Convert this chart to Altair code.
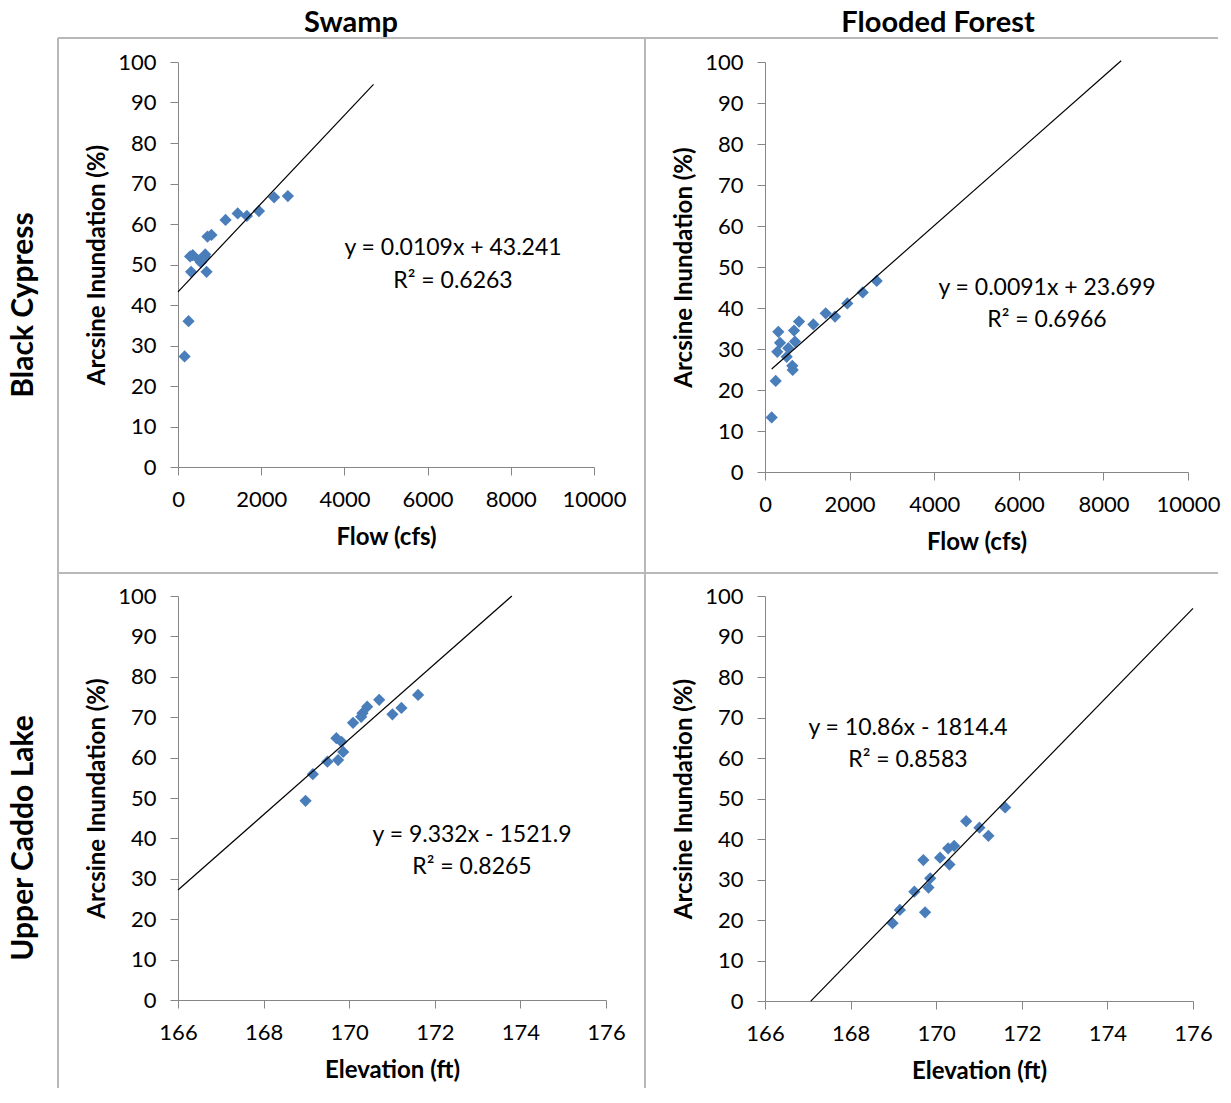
import altair as alt
import pandas as pd

# ---------------- data ----------------
flow_cfs = [158, 253, 291, 315, 355, 513, 551, 645, 655, 686, 709, 804, 1143, 1435, 1655, 1946, 2310, 2641]
swamp_black_cypress = [27.3, 36.0, 52.0, 48.2, 52.3, 51.1, 50.5, 51.9, 52.5, 48.2, 56.9, 57.3, 61.0, 62.6, 62.0, 63.2, 66.6, 66.9]
forest_black_cypress = [13.3, 22.2, 29.3, 34.2, 31.5, 28.1, 30.2, 25.9, 24.9, 34.5, 31.8, 36.7, 36.0, 38.7, 37.9, 41.1, 43.8, 46.6]

elevation_ft = [168.98, 169.15, 169.49, 169.70, 169.74, 169.82, 169.86, 170.09, 170.28, 170.31, 170.42, 170.70, 171.01, 171.22, 171.61]
swamp_upper_caddo = [49.3, 55.9, 59.0, 64.8, 59.4, 63.9, 61.4, 68.6, 70.1, 71.0, 72.6, 74.3, 70.7, 72.3, 75.5]
forest_upper_caddo = [19.2, 22.5, 27.0, 34.8, 21.9, 28.0, 30.3, 35.4, 37.7, 33.7, 38.3, 44.4, 42.8, 40.8, 47.8]

trend_slopes = [0.0109, 0.0091, 9.332, 10.86]
trend_intercepts = [43.241, 23.699, -1521.9, -1814.4]
trend_x_ranges = [[0, 4700], [158, 8420], [166, 173.8], [167.07, 176]]
trend_equations = ["y = 0.0109x + 43.241", "y = 0.0091x + 23.699", "y = 9.332x - 1521.9", "y = 10.86x - 1814.4"]
trend_r2 = ["R\u00b2 = 0.6263", "R\u00b2 = 0.6966", "R\u00b2 = 0.8265", "R\u00b2 = 0.8583"]

column_titles = ["Swamp", "Flooded Forest"]
row_titles = ["Black Cypress", "Upper Caddo Lake"]
x_titles = ["Flow (cfs)", "Flow (cfs)", "Elevation (ft)", "Elevation (ft)"]
y_title = "Arcsine Inundation (%)"
flow_ticks = [0, 2000, 4000, 6000, 8000, 10000]
elev_ticks = [166, 168, 170, 172, 174, 176]
y_ticks = list(range(0, 101, 10))

# ---------------- layout / style ----------------
FONT = "Lato"
BLUE = "#4A7EBB"
GRAY_BORDER = "#b8b8b8"
eq_pos = [(6611, 54.1, 45.9), (6667, 44.9, 37.1), (172.87, 40.8, 32.9), (169.34, 67.4, 59.5)]
sizes = [(416, 405), (423, 410), (428, 404), (428, 405)]
one = alt.Data(values=[{"k": 1}])


def panel(i, xs, ys, xdomain, xticks):
    w, h = sizes[i]
    xscale = alt.Scale(domain=xdomain, nice=False, zero=False)
    yscale = alt.Scale(domain=[0, 100], nice=False, zero=False)
    pts = pd.DataFrame({"x": xs, "y": ys})
    points = alt.Chart(pts).mark_point(
        shape="diamond", filled=True, size=150, color=BLUE, opacity=1
    ).encode(
        x=alt.X("x:Q", scale=xscale, axis=alt.Axis(title=x_titles[i], values=xticks, format="d")),
        y=alt.Y("y:Q", scale=yscale, axis=alt.Axis(title=y_title, values=y_ticks, format="d")),
    )
    tx = trend_x_ranges[i]
    line_df = pd.DataFrame({"x": tx, "y": [trend_slopes[i] * v + trend_intercepts[i] for v in tx]})
    line = alt.Chart(line_df).mark_line(color="black", strokeWidth=1.2).encode(
        x=alt.X("x:Q", scale=xscale, title=x_titles[i]),
        y=alt.Y("y:Q", scale=yscale, title=y_title),
    )
    ex, ey1, ey2 = eq_pos[i]
    eq_df = pd.DataFrame({"x": [ex, ex], "y": [ey1, ey2], "t": [trend_equations[i], trend_r2[i]]})
    eq = alt.Chart(eq_df).mark_text(
        font=FONT, fontSize=23, color="black", align="center", baseline="middle"
    ).encode(
        x=alt.X("x:Q", scale=xscale, title=x_titles[i]),
        y=alt.Y("y:Q", scale=yscale, title=y_title),
        text="t:N",
    )
    layers = [points, line, eq]
    return layers, w, h


def header_text(txt, x, y, size, angle=0):
    kw = dict(text=txt, font=FONT, fontSize=size, fontWeight="bold", color="black",
              align="center", baseline="middle")
    if angle:
        kw["angle"] = angle
    return alt.Chart(one).mark_text(**kw).encode(x=alt.value(x), y=alt.value(y))


def hrule(x1, x2, y):
    return alt.Chart(one).mark_rule(color=GRAY_BORDER, strokeWidth=2).encode(
        x=alt.value(x1), x2=alt.value(x2), y=alt.value(y))


def vrule(x, y1, y2):
    return alt.Chart(one).mark_rule(color=GRAY_BORDER, strokeWidth=2).encode(
        x=alt.value(x), y=alt.value(y1), y2=alt.value(y2))


COL_SIZE = 29
ROW_SIZE = 30

# panel 1: Black Cypress / Swamp  (plot origin at page 178,62)
l1, w1, h1 = panel(0, flow_cfs, swamp_black_cypress, [0, 10000], flow_ticks)
l1 = [hrule(-120, 1040, -24), hrule(-120, 1040, 511), vrule(-120, -24, 1026), vrule(467, -24, 1026),
      header_text(column_titles[0], 173, -39, COL_SIZE),
      header_text(row_titles[0], -154, 243, ROW_SIZE, 270)] + l1
p1 = alt.layer(*l1).properties(width=w1, height=h1)

# panel 2: Black Cypress / Flooded Forest
l2, w2, h2 = panel(1, flow_cfs, forest_black_cypress, [0, 10000], flow_ticks)
l2 = [header_text(column_titles[1], 173, -39, COL_SIZE)] + l2
p2 = alt.layer(*l2).properties(width=w2, height=h2)

# panel 3: Upper Caddo Lake / Swamp
l3, w3, h3 = panel(2, elevation_ft, swamp_upper_caddo, [166, 176], elev_ticks)
l3 = [header_text(row_titles[1], -154, 242, ROW_SIZE, 270)] + l3
p3 = alt.layer(*l3).properties(width=w3, height=h3)

# panel 4: Upper Caddo Lake / Flooded Forest
l4, w4, h4 = panel(3, elevation_ft, forest_upper_caddo, [166, 176], elev_ticks)
p4 = alt.layer(*l4).properties(width=w4, height=h4)

chart = alt.concat(
    p1, p2, p3, p4, columns=2, spacing={"row": 124, "column": 159}, bounds="flush"
).properties(padding=0).configure_view(
    stroke="transparent"
).configure_axis(
    domainColor="#868686", tickColor="#868686", tickSize=8, domainWidth=1, tickWidth=1,
    labelFont=FONT, labelFontSize=22, labelColor="black",
    titleFont=FONT, titleFontSize=24, titleFontWeight="bold", titleColor="black",
    grid=False, labelFlush=False, labelOverlap=False,
).configure_axisX(
    labelPadding=14, titlePadding=15
).configure_axisY(
    labelPadding=14, titlePadding=8
)

chart.save("out.html", embed_options={"renderer": "svg", "actions": False})
